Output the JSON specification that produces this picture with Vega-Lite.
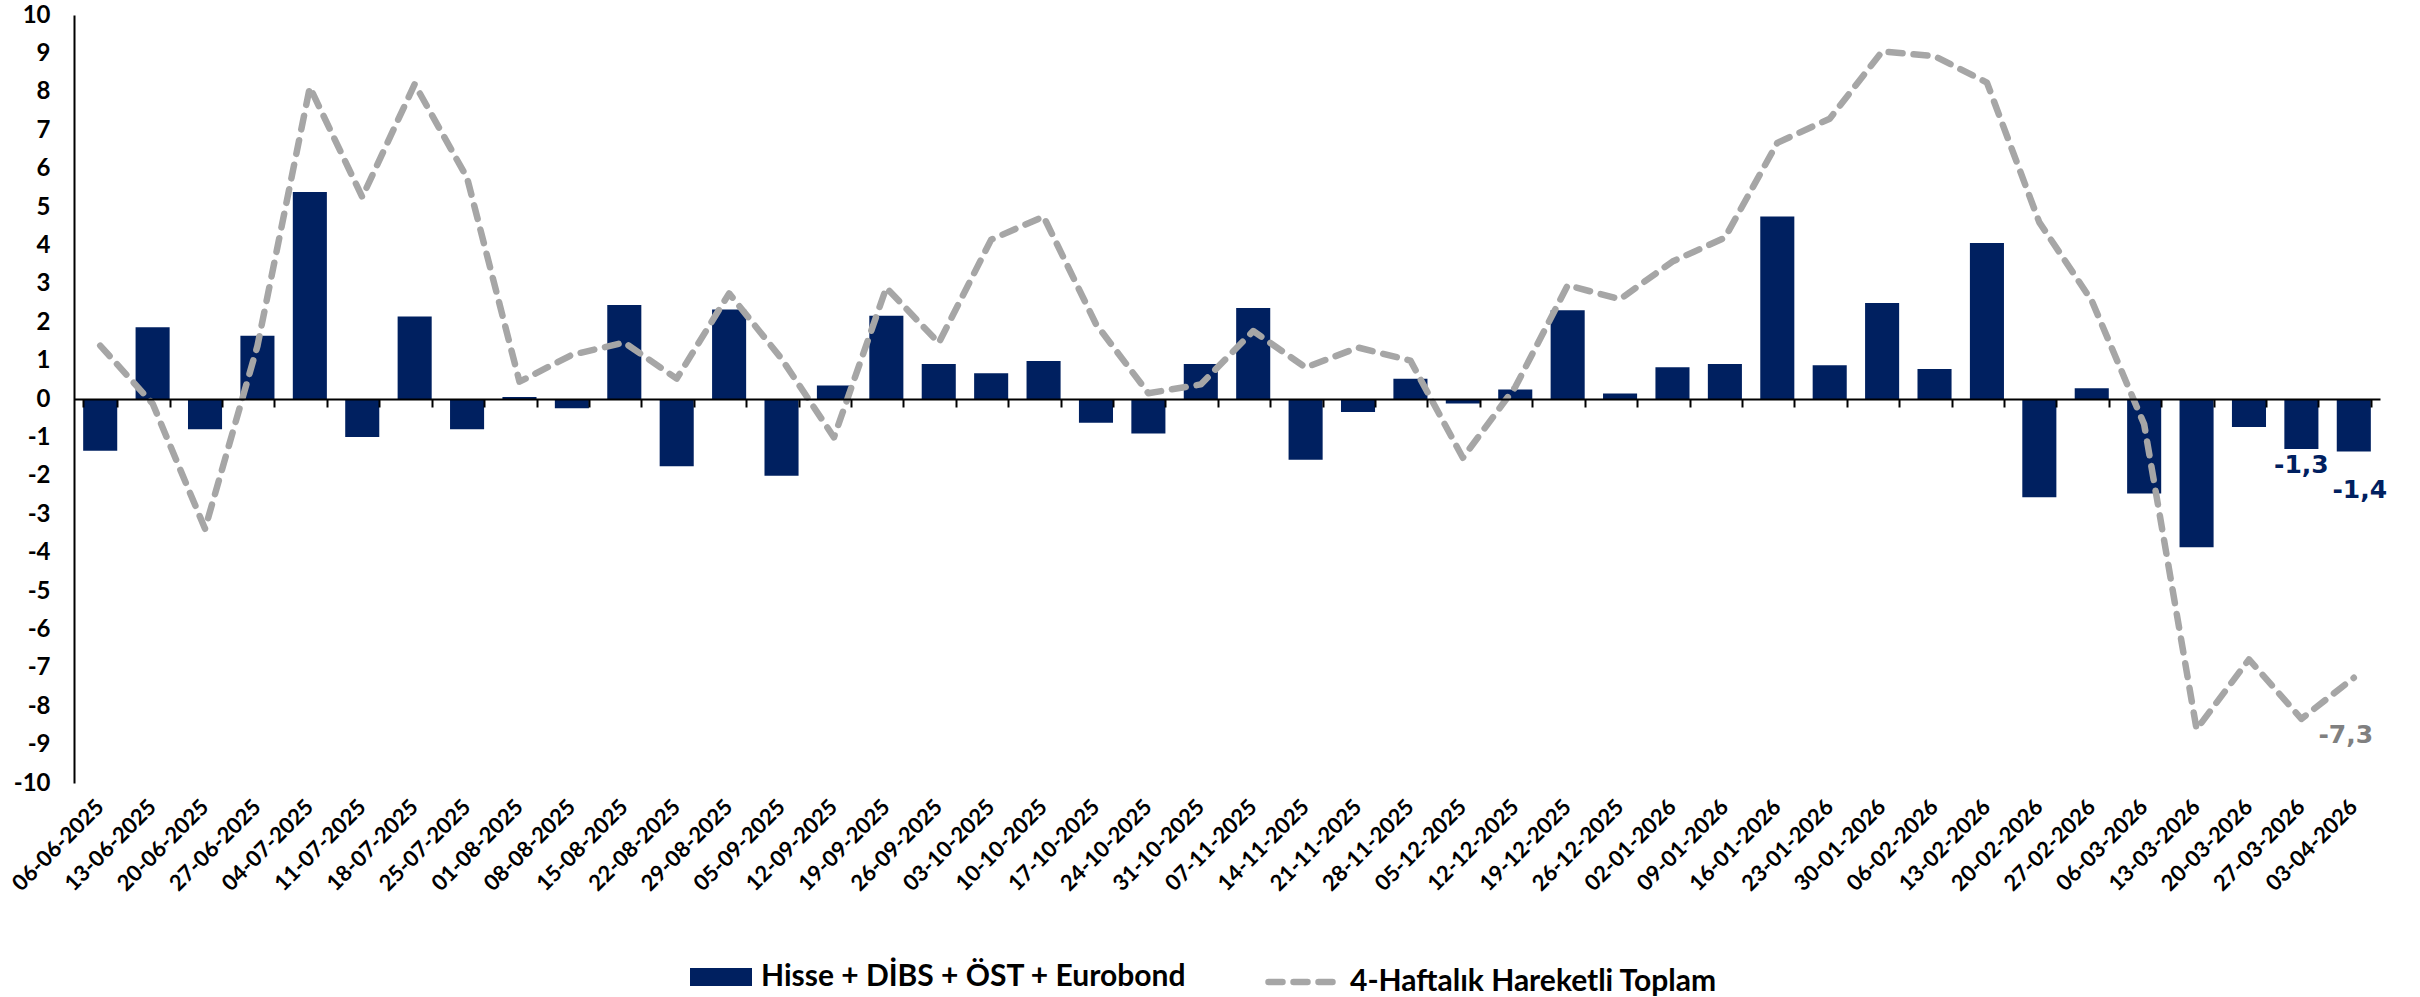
{
  "$schema": "https://vega.github.io/schema/vega-lite/v6.json",
  "width": 2306,
  "height": 768,
  "autosize": {"type": "none"},
  "padding": {"left": 74, "top": 15, "right": 40, "bottom": 214},
  "background": "white",
  "config": {
    "locale": {"number": {"decimal": ",", "thousands": ".", "grouping": [3], "currency": ["", "₺"], "minus": "-"}},
    "view": {"stroke": null},
    "font": "Lato",
    "axisY": {"labelOverlap": false, "labelSeparation": 0, "labelBound": false, "labelFlush": false}
  },
  "data": {
    "values": [
      {"date": "06-06-2025", "flow": -1.35, "sum4": 1.39},
      {"date": "13-06-2025", "flow": 1.87, "sum4": -0.12},
      {"date": "20-06-2025", "flow": -0.79, "sum4": -3.38},
      {"date": "27-06-2025", "flow": 1.65, "sum4": 1.38},
      {"date": "04-07-2025", "flow": 5.39, "sum4": 8.12},
      {"date": "11-07-2025", "flow": -0.99, "sum4": 5.26},
      {"date": "18-07-2025", "flow": 2.15, "sum4": 8.2},
      {"date": "25-07-2025", "flow": -0.79, "sum4": 5.76},
      {"date": "01-08-2025", "flow": 0.05, "sum4": 0.45},
      {"date": "08-08-2025", "flow": -0.24, "sum4": 1.15},
      {"date": "15-08-2025", "flow": 2.45, "sum4": 1.47},
      {"date": "22-08-2025", "flow": -1.75, "sum4": 0.53},
      {"date": "29-08-2025", "flow": 2.33, "sum4": 2.75},
      {"date": "05-09-2025", "flow": -2.0, "sum4": 1.05},
      {"date": "12-09-2025", "flow": 0.35, "sum4": -1.0},
      {"date": "19-09-2025", "flow": 2.17, "sum4": 2.9},
      {"date": "26-09-2025", "flow": 0.91, "sum4": 1.46},
      {"date": "03-10-2025", "flow": 0.67, "sum4": 4.15},
      {"date": "10-10-2025", "flow": 0.99, "sum4": 4.75},
      {"date": "17-10-2025", "flow": -0.62, "sum4": 1.95},
      {"date": "24-10-2025", "flow": -0.9, "sum4": 0.15},
      {"date": "31-10-2025", "flow": 0.91, "sum4": 0.38},
      {"date": "07-11-2025", "flow": 2.37, "sum4": 1.77},
      {"date": "14-11-2025", "flow": -1.58, "sum4": 0.82},
      {"date": "21-11-2025", "flow": -0.34, "sum4": 1.34},
      {"date": "28-11-2025", "flow": 0.53, "sum4": 1.0},
      {"date": "05-12-2025", "flow": -0.12, "sum4": -1.53},
      {"date": "12-12-2025", "flow": 0.25, "sum4": 0.31},
      {"date": "19-12-2025", "flow": 2.31, "sum4": 2.96},
      {"date": "26-12-2025", "flow": 0.14, "sum4": 2.6},
      {"date": "02-01-2026", "flow": 0.83, "sum4": 3.58},
      {"date": "09-01-2026", "flow": 0.91, "sum4": 4.2},
      {"date": "16-01-2026", "flow": 4.75, "sum4": 6.67},
      {"date": "23-01-2026", "flow": 0.88, "sum4": 7.3},
      {"date": "30-01-2026", "flow": 2.5, "sum4": 9.05},
      {"date": "06-02-2026", "flow": 0.78, "sum4": 8.93},
      {"date": "13-02-2026", "flow": 4.06, "sum4": 8.24},
      {"date": "20-02-2026", "flow": -2.56, "sum4": 4.6},
      {"date": "27-02-2026", "flow": 0.28, "sum4": 2.56},
      {"date": "06-03-2026", "flow": -2.46, "sum4": -0.66},
      {"date": "13-03-2026", "flow": -3.86, "sum4": -8.6},
      {"date": "20-03-2026", "flow": -0.73, "sum4": -6.78},
      {"date": "27-03-2026", "flow": -1.3, "sum4": -8.33},
      {"date": "03-04-2026", "flow": -1.37, "sum4": -7.26}
    ]
  },
  "resolve": {"scale": {"x": "shared"}, "axis": {"x": "independent"}},
  "layer": [
    {
      "mark": {"type": "bar"},
      "encoding": {
        "x": {
          "field": "date", "type": "ordinal", "sort": null,
          "scale": {"paddingInner": 0.35, "paddingOuter": 0.175},
          "axis": {
            "orient": "bottom", "title": null, "labelAngle": -45, "domain": false, "ticks": false,
            "labelPadding": 20, "labelFontSize": 22, "labelFontWeight": "bold", "labelColor": "#000000",
            "labelAlign": "right", "labelBaseline": "middle", "labelFont": "Lato", "labelOverlap": false
          }
        },
        "y": {
          "field": "flow", "type": "quantitative",
          "scale": {"domain": [-10, 10], "nice": false},
          "axis": {
            "title": null, "values": [-10, -9, -8, -7, -6, -5, -4, -3, -2, -1, 0, 1, 2, 3, 4, 5, 6, 7, 8, 9, 10],
            "tickCount": 21, "grid": false, "ticks": false, "domainColor": "#000000", "domainWidth": 2,
            "labelFontSize": 24, "labelFontWeight": "bold", "labelPadding": 24, "labelColor": "#000000",
            "labelFont": "Lato", "format": "d", "labelOverlap": false
          }
        },
        "fill": {
          "datum": "Hisse + DİBS + ÖST + Eurobond",
          "scale": {"range": ["#002060"]},
          "legend": {
            "orient": "none", "legendX": 616, "legendY": 931, "title": null, "padding": 0,
            "symbolType": "M-1,-0.29H1V0.29H-1Z", "symbolSize": 3844, "symbolStrokeWidth": 0,
            "labelFontSize": 30, "labelFont": "Lato", "labelFontWeight": "bold", "labelColor": "#000000",
            "labelOffset": 9, "labelLimit": 0
          }
        }
      }
    },
    {
      "mark": {"type": "line", "strokeWidth": 6.5, "strokeDash": [14, 11], "strokeCap": "round", "strokeJoin": "round"},
      "encoding": {
        "x": {
          "field": "date", "type": "ordinal", "sort": null,
          "axis": {
            "orient": "top", "offset": -384, "labels": false, "title": null, "domain": true,
            "domainColor": "#000000", "domainWidth": 2, "ticks": true, "tickBand": "extent",
            "tickSize": -8, "tickWidth": 2, "tickColor": "#000000", "zindex": 1
          }
        },
        "y": {"field": "sum4", "type": "quantitative"},
        "stroke": {
          "datum": "4-Haftalık Hareketli Toplam",
          "scale": {"range": ["#a6a6a6"]},
          "legend": {
            "orient": "none", "legendX": 1191, "legendY": 931, "title": null, "padding": 0,
            "symbolType": "stroke", "symbolSize": 4225, "symbolStrokeWidth": 6.5, "symbolDash": [14, 11],
            "labelFontSize": 30, "labelFont": "Lato", "labelFontWeight": "bold", "labelColor": "#000000",
            "labelOffset": 13, "labelLimit": 0,
            "encode": {"symbols": {"update": {"strokeCap": {"value": "round"}}}}
          }
        }
      }
    },
    {
      "transform": [{"filter": "datum.date === '27-03-2026'"}],
      "mark": {"type": "text", "font": "DejaVu Sans", "fontWeight": "bold", "fontSize": 25, "color": "#002060", "baseline": "middle", "dy": 16},
      "encoding": {
        "x": {"field": "date", "type": "ordinal", "sort": null, "axis": null},
        "y": {"field": "flow", "type": "quantitative"},
        "text": {"field": "flow", "type": "quantitative", "format": ".1f"}
      }
    },
    {
      "transform": [{"filter": "datum.date === '03-04-2026'"}],
      "mark": {"type": "text", "font": "DejaVu Sans", "fontWeight": "bold", "fontSize": 25, "color": "#002060", "baseline": "middle", "dy": 38, "dx": 6},
      "encoding": {
        "x": {"field": "date", "type": "ordinal", "sort": null, "axis": null},
        "y": {"field": "flow", "type": "quantitative"},
        "text": {"field": "flow", "type": "quantitative", "format": ".1f"}
      }
    },
    {
      "transform": [{"filter": "datum.date === '03-04-2026'"}],
      "mark": {"type": "text", "font": "DejaVu Sans", "fontWeight": "bold", "fontSize": 25, "color": "#808080", "baseline": "middle", "dy": 57, "dx": -8},
      "encoding": {
        "x": {"field": "date", "type": "ordinal", "sort": null, "axis": null},
        "y": {"field": "sum4", "type": "quantitative"},
        "text": {"field": "sum4", "type": "quantitative", "format": ".1f"}
      }
    }
  ]
}
